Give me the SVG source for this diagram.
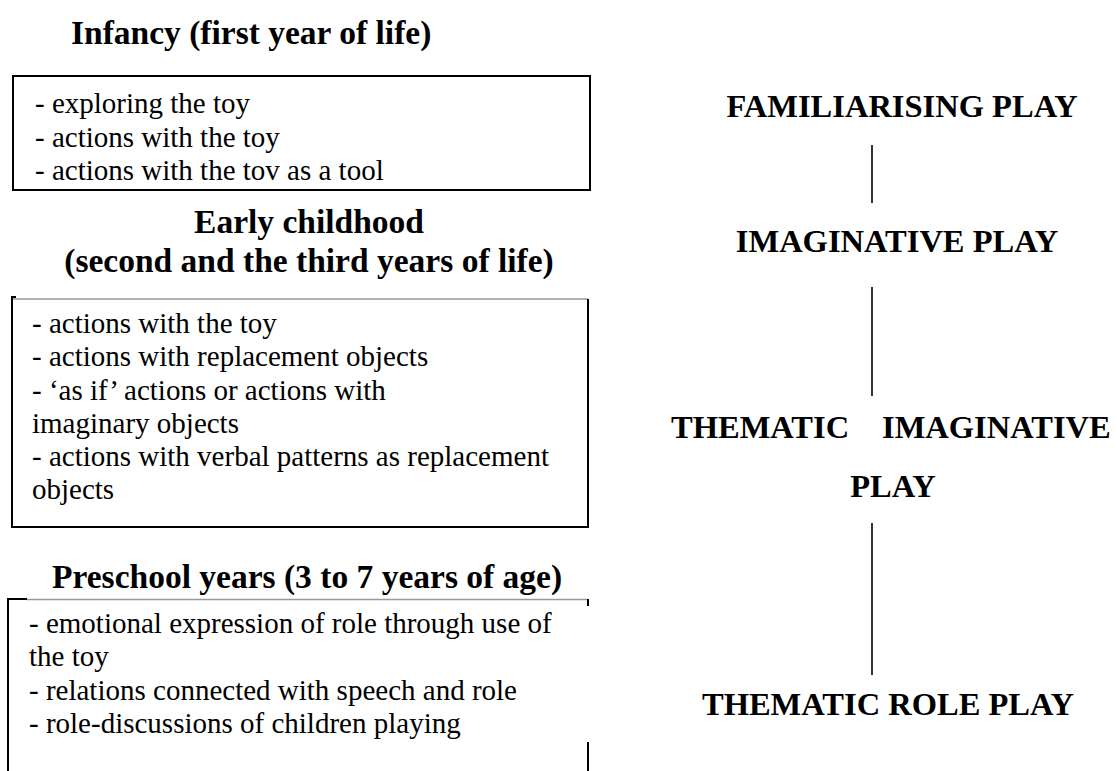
<svg xmlns="http://www.w3.org/2000/svg" width="1117" height="771" viewBox="0 0 1117 771">
<style>
.hd{font-family:"Liberation Serif",serif;font-weight:bold;font-size:33.5px;fill:#000}
.rt{font-family:"Liberation Serif",serif;font-weight:bold;font-size:32.5px;fill:#000}
.bd{font-family:"Liberation Serif",serif;font-size:29px;fill:#000}
.bk{stroke:#000;stroke-width:2;fill:none}
.gr{stroke:#999;stroke-width:1.5;fill:none}
.cn{stroke:#000;stroke-width:1.6;fill:none}
</style>
<rect x="0" y="0" width="1117" height="771" fill="#fff"/>
<g id="infancy">
<text class="hd" x="71" y="44">Infancy (first year of life)</text>
<rect class="bk" x="13" y="76" width="577" height="114"/>
<text class="bd" x="35" y="113">- exploring the toy</text>
<text class="bd" x="35" y="146.5">- actions with the toy</text>
<text class="bd" x="35" y="180">- actions with the tov as a tool</text>
</g>
<g id="early">
<text class="hd" x="309" y="233" text-anchor="middle">Early childhood</text>
<text class="hd" x="309" y="272" text-anchor="middle">(second and the third years of life)</text>
<line class="gr" x1="12" y1="299" x2="588" y2="299"/>
<path class="bk" d="M16 297 H12 V527 H588 V299"/>
<text class="bd" x="32" y="333">- actions with the toy</text>
<text class="bd" x="32" y="366">- actions with replacement objects</text>
<text class="bd" x="32" y="400">- ‘as if’ actions or actions with</text>
<text class="bd" x="32" y="433">imaginary objects</text>
<text class="bd" x="32" y="466">- actions with verbal patterns as replacement</text>
<text class="bd" x="32" y="499">objects</text>
</g>
<g id="preschool">
<text class="hd" x="52" y="588">Preschool years (3 to 7 years of age)</text>
<line class="gr" x1="26" y1="599.5" x2="588" y2="599.5"/>
<path class="bk" d="M27 599 H8 V771"/>
<path class="bk" d="M588 599 V606"/>
<path class="bk" d="M588 742 V771"/>
<text class="bd" x="29" y="633">- emotional expression of role through use of</text>
<text class="bd" x="29" y="666">the toy</text>
<text class="bd" x="29" y="700">- relations connected with speech and role</text>
<text class="bd" x="29" y="733">- role-discussions of children playing</text>
</g>
<g id="familiarising">
<text class="rt" x="902" y="117" text-anchor="middle">FAMILIARISING PLAY</text>
</g>
<g id="imaginative">
<text class="rt" x="897" y="252" text-anchor="middle">IMAGINATIVE PLAY</text>
</g>
<g id="thematic-imaginative">
<text class="rt" y="438"><tspan x="671">THEMATIC </tspan><tspan x="882">IMAGINATIVE</tspan></text>
<text class="rt" x="893" y="497" text-anchor="middle">PLAY</text>
</g>
<g id="thematic-role">
<text class="rt" x="888" y="715" text-anchor="middle">THEMATIC ROLE PLAY</text>
</g>
<g id="connectors">
<line class="cn" x1="872" y1="145" x2="872" y2="203"/>
<line class="cn" x1="872" y1="287" x2="872" y2="396"/>
<line class="cn" x1="872" y1="523" x2="872" y2="675"/>
</g>
</svg>
